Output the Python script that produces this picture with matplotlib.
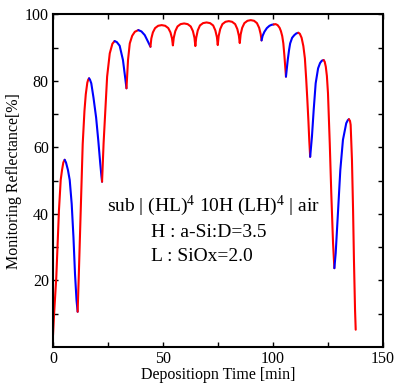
import matplotlib
matplotlib.use("Agg")
import matplotlib.pyplot as plt
import numpy as np

plt.rcParams['font.family'] = ['Liberation Serif', 'DejaVu Serif']
plt.rcParams['mathtext.fontset'] = 'custom'
plt.rcParams['mathtext.rm'] = 'Liberation Serif'
plt.rcParams['mathtext.it'] = 'Liberation Serif:italic'

# Deposition time [min] and monitoring reflectance [%]
time = [
    0.0, 0.5, 1.5, 2.7, 3.5, 4.1, 4.7, 5.3,
    5.9, 6.8, 7.6, 8.5, 9.3, 10.0, 10.7, 11.2,
    11.7, 12.6, 13.5, 14.3, 14.9, 15.6, 16.0, 16.4,
    16.8, 17.4, 18.4, 19.6, 20.6, 21.5, 22.0, 22.3,
    23.0, 23.8, 24.6, 25.8, 27.0, 28.0,
    29.0, 30.3, 31.8, 32.9, 33.4,
    34.1, 34.9, 36.0, 37.2, 38.8,
    40.2, 41.7, 43.2, 44.3,
    44.7, 45.4, 46.4, 47.8, 49.4, 51.0, 52.4, 53.4, 54.1, 54.5,
    54.9, 55.6, 56.6, 58.0, 59.6, 61.2, 62.6, 63.6, 64.3, 64.7,
    65.1, 65.8, 66.8, 68.2, 69.8, 71.4, 72.8, 73.8, 74.5, 74.9,
    75.3, 76.0, 77.0, 78.4, 79.9, 81.4, 82.8, 83.8, 84.5, 84.9,
    85.3, 86.0, 87.0, 88.4, 89.9, 91.4, 92.7, 93.7, 94.4, 94.8,
    95.3, 96.1, 97.2, 98.4, 99.4, 100.3,
    101.2, 102.1, 103.0, 103.6, 104.2, 104.7, 105.2, 105.6, 105.9,
    106.3, 106.7, 107.3, 107.8, 108.7, 109.7, 110.6, 111.5,
    112.2, 113.0, 113.8, 114.5, 115.1, 115.6, 116.1, 116.5, 116.9,
    117.7, 118.5, 119.4, 120.5, 121.4, 122.2, 123.0,
    123.5, 124.0, 124.5, 125.0, 125.8, 126.5, 127.3, 127.9,
    128.5, 129.6, 130.6, 131.8, 133.3, 134.0, 134.5,
    135.0, 135.3, 135.9, 136.4, 136.8, 137.3, 137.6,
]
reflectance = [
    3.5, 10.0, 21.0, 41.0, 50.2, 53.2, 55.5, 56.3,
    55.5, 53.2, 50.2, 43.0, 33.0, 22.0, 14.0, 10.6,
    21.0, 41.0, 61.0, 71.0, 76.0, 79.5, 80.4, 80.8,
    80.4, 79.3, 75.0, 69.0, 62.0, 55.0, 51.5, 49.7,
    61.3, 71.3, 81.3, 88.3, 91.2, 92.0,
    91.7, 90.6, 86.3, 80.5, 77.8,
    86.3, 91.3, 93.6, 94.8, 95.3,
    94.9, 93.8, 91.8, 90.3,
    92.8, 94.6, 95.9, 96.6, 96.8, 96.6, 95.9, 94.6, 92.8, 90.7,
    93.0, 95.0, 96.4, 97.1, 97.3, 97.1, 96.4, 95.0, 93.0, 90.5,
    93.0, 95.2, 96.7, 97.4, 97.6, 97.4, 96.7, 95.2, 93.2, 90.8,
    93.5, 95.6, 97.1, 97.8, 98.0, 97.8, 97.1, 95.6, 93.6, 91.4,
    94.0, 96.0, 97.4, 98.1, 98.3, 98.1, 97.4, 96.0, 94.1, 92.2,
    93.6, 94.8, 95.9, 96.6, 96.9, 97.0,
    97.1, 96.8, 96.0, 95.0, 93.5, 91.3, 87.5, 84.0, 81.3,
    83.8, 86.3, 89.3, 91.3, 93.0, 93.8, 94.3, 94.5,
    94.2, 93.0, 90.5, 86.8, 80.5, 74.5, 68.0, 62.0, 57.2,
    63.2, 71.3, 79.3, 83.8, 85.4, 86.1, 86.3,
    85.8, 84.3, 81.5, 76.3, 61.3, 46.2, 31.2, 23.7,
    28.2, 41.2, 53.2, 62.3, 67.3, 68.2, 68.5,
    68.0, 66.8, 56.2, 41.2, 26.2, 11.1, 5.2,
]
# layer boundaries (time) and the material of each layer
layer_edges = [0.0, 5.3, 11.2, 16.4, 22.3, 28.0, 33.4, 38.8, 44.3, 94.8,
               100.3, 105.9, 111.5, 116.9, 123.0, 127.9, 134.5, 137.6]
layer_material = ['H', 'L', 'H', 'L', 'H', 'L', 'H', 'L', 'H',
                  'L', 'H', 'L', 'H', 'L', 'H', 'L', 'H']
material_color = {'H': '#ff0000', 'L': '#0000ff'}

x_ticks = [0, 50, 100, 150]
y_ticks = [20, 40, 60, 80, 100]

fig = plt.figure(figsize=(3.97, 3.84), dpi=100)
ax = fig.add_axes([0.1335, 0.0964, 0.8312, 0.8659])

t = np.array(time)
r = np.array(reflectance)
for i, mat in enumerate(layer_material):
    m = (t >= layer_edges[i] - 1e-9) & (t <= layer_edges[i + 1] + 1e-9)
    ax.plot(t[m], r[m], color=material_color[mat], lw=1.5, solid_capstyle='round',
            solid_joinstyle='round')

ax.set_xlim(0, 150)
ax.set_ylim(0, 100)
ax.set_xticks(x_ticks)
ax.set_yticks(y_ticks)
ax.set_xticks([25, 75, 125], minor=True)
ax.set_yticks([10, 30, 50, 70, 90], minor=True)
ax.tick_params(which='both', direction='in', top=True, right=True,
               length=3.8, width=1.0, labelsize=11.5, pad=3)
for s in ax.spines.values():
    s.set_linewidth(1.5)

ax.set_xlabel('Depositiopn Time [min]', fontsize=11.5, labelpad=0)
ax.set_ylabel('Monitoring Reflectance[%]', fontsize=11.5, labelpad=2)

ax.text(72.8, 41, r'sub | (HL)$^{4}$ 10H (LH)$^{4}$ | air', fontsize=14,
        ha='center', va='baseline')
ax.text(44.7, 33.2, 'H : a-Si:D=3.5', fontsize=14, ha='left', va='baseline')
ax.text(44.7, 26.0, 'L : SiOx=2.0', fontsize=14, ha='left', va='baseline')

fig.savefig('out.png', dpi=100)
